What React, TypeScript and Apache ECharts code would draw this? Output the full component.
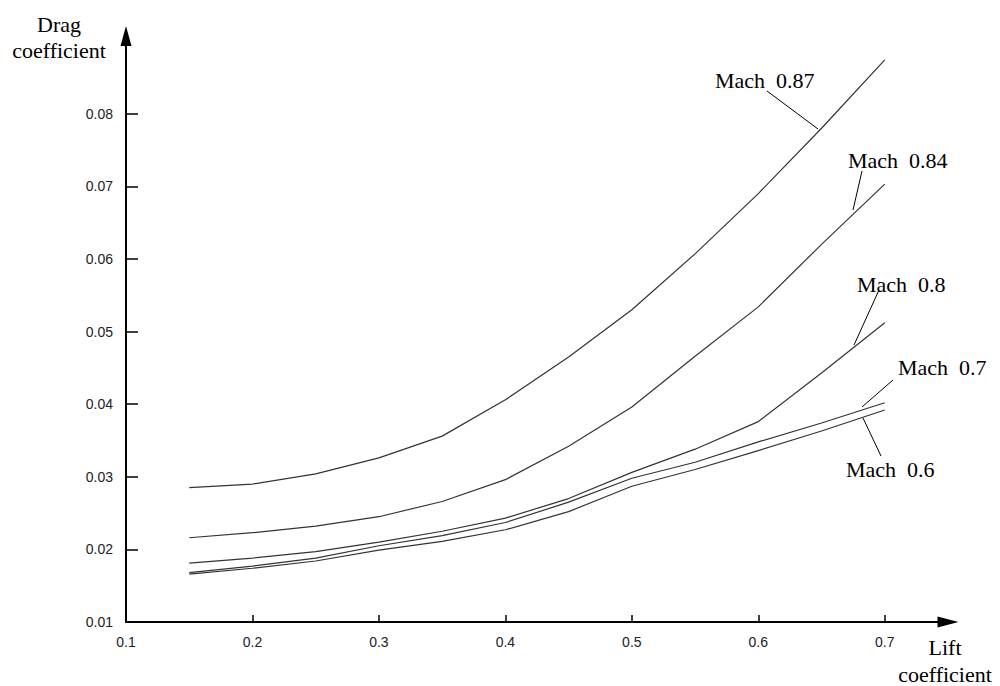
import React, { useEffect, useRef } from "react";
import * as echarts from "echarts";

const liftCoefficient = [0.15, 0.2, 0.25, 0.3, 0.35, 0.4, 0.45, 0.5, 0.55, 0.6, 0.65, 0.7];
const mach087 = [0.0285, 0.029, 0.0304, 0.0326, 0.0356, 0.0406, 0.0465, 0.053, 0.0607, 0.069, 0.078, 0.0874];
const mach084 = [0.0216, 0.0223, 0.0232, 0.0245, 0.0266, 0.0296, 0.0342, 0.0396, 0.0466, 0.0534, 0.062, 0.0703];
const mach080 = [0.0181, 0.0188, 0.0197, 0.021, 0.0225, 0.0243, 0.027, 0.0306, 0.0338, 0.0376, 0.0443, 0.0512];
const mach070 = [0.0168, 0.0177, 0.0188, 0.0205, 0.0219, 0.0237, 0.0265, 0.0298, 0.032, 0.0348, 0.0374, 0.0402];
const mach060 = [0.0166, 0.0174, 0.0184, 0.0199, 0.0211, 0.0227, 0.0252, 0.0287, 0.031, 0.0336, 0.0363, 0.0392];

const seriesNames = ["Mach 0.87", "Mach 0.84", "Mach 0.8", "Mach 0.7", "Mach 0.6"];
const seriesValues = [mach087, mach084, mach080, mach070, mach060];

const xTicks = [0.1, 0.2, 0.3, 0.4, 0.5, 0.6, 0.7];
const yTicks = [0.01, 0.02, 0.03, 0.04, 0.05, 0.06, 0.07, 0.08];

const labelTexts = ["Mach  0.87", "Mach  0.84", "Mach  0.8", "Mach  0.7", "Mach  0.6"];

export default function App() {
  const ref = useRef<HTMLDivElement>(null);
  useEffect(() => {
    if (!ref.current) return;
    const chart = echarts.init(ref.current, null, { renderer: "svg" });
    const serif = "'Liberation Serif', 'Times New Roman', serif";
    const sans = "'Liberation Sans', Arial, sans-serif";
    const labelPos = [
      [715, 80],
      [848, 160],
      [857, 284],
      [898, 367],
      [846, 469],
    ];
    const leaders = [
      [767, 91, 818, 129],
      [862, 171, 853, 210],
      [879, 290, 854, 345],
      [893, 380, 862, 407],
      [881, 456, 863, 418],
    ];
    const graphics: any[] = [
      { type: "text", x: 59, y: 24, style: { text: "Drag", font: `22px ${serif}`, fill: "#000", align: "center", verticalAlign: "middle" } },
      { type: "text", x: 59, y: 50, style: { text: "coefficient", font: `22px ${serif}`, fill: "#000", align: "center", verticalAlign: "middle" } },
      { type: "text", x: 945, y: 647, style: { text: "Lift", font: `22px ${serif}`, fill: "#000", align: "center", verticalAlign: "middle" } },
      { type: "text", x: 945, y: 674, style: { text: "coefficient", font: `22px ${serif}`, fill: "#000", align: "center", verticalAlign: "middle" } },
    ];
    labelTexts.forEach((t, i) => {
      graphics.push({
        type: "text",
        x: labelPos[i][0],
        y: labelPos[i][1],
        style: { text: t, font: `22px ${serif}`, fill: "#000", align: "left", verticalAlign: "middle" },
      });
      const l = leaders[i];
      graphics.push({
        type: "line",
        shape: { x1: l[0], y1: l[1], x2: l[2], y2: l[3] },
        style: { stroke: "#000", lineWidth: 1 },
      });
    });

    chart.setOption({
      animation: false,
      grid: { left: 126, right: 52, top: 36, bottom: 64, containLabel: false },
      xAxis: {
        type: "value",
        min: 0.1,
        max: 0.75,
        splitLine: { show: false },
        axisLine: {
          lineStyle: { color: "#000", width: 2 },
          symbol: ["none", "triangle"],
          symbolSize: [11, 21],
        },
        axisTick: { show: true, inside: true, length: 7, lineStyle: { color: "#000", width: 1.5 }, customValues: xTicks },
        axisLabel: {
          customValues: xTicks,
          formatter: (v: number) => v.toFixed(1),
          color: "#222",
          fontSize: 14,
          fontFamily: sans,
          margin: 13,
        },
      },
      yAxis: {
        type: "value",
        min: 0.01,
        max: 0.0907,
        splitLine: { show: false },
        axisLine: {
          lineStyle: { color: "#000", width: 2 },
          symbol: ["none", "triangle"],
          symbolSize: [11, 20],
        },
        axisTick: { show: true, inside: true, length: 12, lineStyle: { color: "#000", width: 1.5 }, customValues: yTicks },
        axisLabel: {
          customValues: yTicks,
          formatter: (v: number) => v.toFixed(2),
          color: "#222",
          fontSize: 14,
          fontFamily: sans,
          margin: 13,
        },
      },
      series: seriesNames.map((name, i) => ({
        name,
        type: "line",
        data: liftCoefficient.map((x, j) => [x, seriesValues[i][j]]),
        showSymbol: false,
        symbol: "none",
        lineStyle: { color: "#333", width: 1.2 },
        silent: true,
      })),
      graphic: graphics,
    });
    return () => chart.dispose();
  }, []);
  return <div ref={ref} style={{ position: "absolute", left: 0, top: 0, width: 1000, height: 686 }} />;
}
